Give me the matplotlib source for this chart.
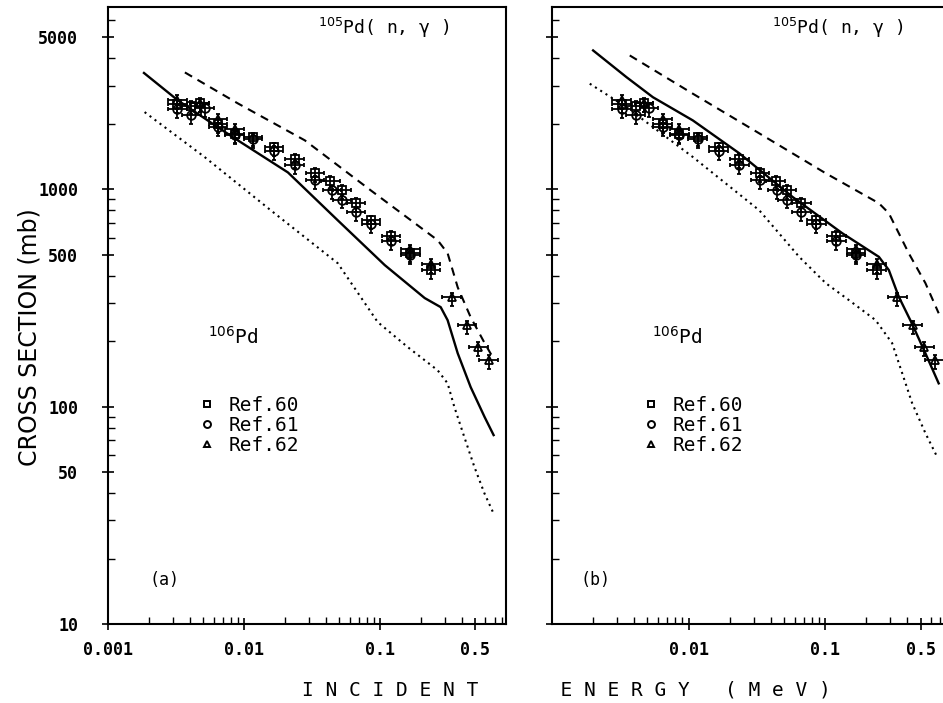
import numpy as np
import matplotlib.pyplot as plt
from matplotlib.lines import Line2D
from matplotlib.ticker import FixedLocator, FixedFormatter, NullFormatter

# measured points (energy in MeV, cross section in mb), shown in both panels
e60 = [0.00324, 0.0041, 0.00472, 0.00645, 0.00855, 0.01165, 0.01663, 0.0236,
       0.0334, 0.0434, 0.0526, 0.067, 0.0863, 0.121, 0.168, 0.238]
s60 = [2460, 2430, 2485, 2000, 1800, 1734, 1560, 1384,
       1188, 1092, 997, 865, 720, 610, 510, 425]

e61 = [0.00324, 0.0041, 0.00514, 0.00645, 0.00855, 0.01165, 0.01663, 0.0236,
       0.0334, 0.0445, 0.0526, 0.067, 0.0863, 0.121, 0.168]
s61 = [2350, 2190, 2356, 1930, 1770, 1700, 1500, 1290,
       1100, 990, 897, 787, 690, 580, 500]

e62 = [0.00324, 0.00472, 0.00645, 0.00855, 0.168, 0.238, 0.338, 0.438, 0.532, 0.633]
s62 = [2580, 2500, 2113, 1900, 530, 455, 318, 237, 188, 164]

# calculations, panel (a)
ea_solid = [0.00184, 0.00327, 0.00645, 0.00903, 0.0211, 0.0491, 0.1089, 0.2143,
            0.281, 0.316, 0.375, 0.467, 0.592, 0.689]
sa_solid = [3430, 2566, 1928, 1680, 1196, 720, 448, 316, 287, 250, 176, 123, 89.5, 74]
ea_dash = [0.00368, 0.00903, 0.0281, 0.0859, 0.267, 0.316, 0.375, 0.467, 0.592, 0.678]
sa_dash = [3450, 2485, 1680, 989, 583, 508, 354, 258, 196, 169]
ea_dot = [0.00186, 0.00514, 0.0158, 0.0491, 0.0966, 0.1606, 0.267, 0.316, 0.354,
          0.419, 0.497, 0.589, 0.697]
sa_dot = [2266, 1408, 800, 457, 245, 188, 147, 128, 99.8, 72.6, 52.9, 40, 31.7]

# calculations, panel (b)
eb_solid = [0.0020, 0.00351, 0.00548, 0.01075, 0.02355, 0.0577, 0.1336, 0.2477,
            0.293, 0.3467, 0.4315, 0.543, 0.679]
sb_solid = [4355, 3282, 2654, 2075, 1464, 923, 628, 489, 425, 320, 242, 176, 128]
eb_dash = [0.00371, 0.01075, 0.0330, 0.1011, 0.2477, 0.293, 0.410, 0.543, 0.679]
sb_dash = [4130, 2754, 1808, 1185, 863, 776, 508, 370, 269]
eb_dot = [0.00189, 0.00351, 0.01075, 0.0330, 0.0646, 0.1011, 0.1496, 0.2344,
          0.3097, 0.3664, 0.4335, 0.543, 0.661]
sb_dot = [3062, 2387, 1408, 800, 489, 370, 309, 250, 196, 143, 104, 75.5, 58.8]

xmaj_a = [0.001, 0.01, 0.1, 0.5]
xmaj_b = [0.01, 0.1, 0.5]
xlab_a = ['0.001', '0.01', '0.1', '0.5']
xlab_b = ['0.01', '0.1', '0.5']
ymaj = [10, 50, 100, 500, 1000, 5000]
ylab = ['10', '50', '100', '500', '1000', '5000']

MONO = 'DejaVu Sans Mono'

fig = plt.figure(figsize=(9.43, 7.03), dpi=100)
W, H = 943, 703
axa = fig.add_axes([108 / W, 1 - 624 / H, 398 / W, 617 / H])
axb = fig.add_axes([552 / W, 1 - 624 / H, 400 / W, 617 / H])


def draw_points(ax):
    f = 1.17
    for e, s, m in [(e60, s60, 's'), (e61, s61, 'o'), (e62, s62, '^')]:
        e = np.array(e)
        s = np.array(s, dtype=float)
        ax.errorbar(e, s, xerr=[e - e / f, e * f - e], yerr=[s * 0.09, s * 0.05],
                    fmt=m, ms=6.2, mfc='none', mec='k', mew=1.3, ecolor='k',
                    elinewidth=1.3, capsize=1.5, capthick=1.0, zorder=3)


def setup(ax, xmaj, xlab, show_y):
    ax.set_xscale('log')
    ax.set_yscale('log')
    ax.set_xlim(0.001, 0.85)
    ax.set_ylim(10, 6900)
    xmin = [m * 10.0 ** k for k in (-3, -2, -1) for m in range(2, 10)
            if m * 10.0 ** k < 0.85 and not any(abs(m * 10.0 ** k - t) < 1e-9 for t in xmaj)]
    ymin = [m * 10.0 ** k for k in (1, 2, 3) for m in range(2, 10)
            if m * 10.0 ** k < 6900 and m != 5]
    ax.xaxis.set_major_locator(FixedLocator(xmaj))
    ax.xaxis.set_major_formatter(FixedFormatter(xlab))
    ax.xaxis.set_minor_locator(FixedLocator(xmin))
    ax.xaxis.set_minor_formatter(NullFormatter())
    ax.yaxis.set_major_locator(FixedLocator(ymaj))
    ax.yaxis.set_minor_locator(FixedLocator(ymin))
    ax.yaxis.set_minor_formatter(NullFormatter())
    if show_y:
        ax.yaxis.set_major_formatter(FixedFormatter(ylab))
    else:
        ax.yaxis.set_major_formatter(NullFormatter())
    ax.tick_params(which='major', direction='inout', length=9, width=1.2,
                   top=False, right=False)
    ax.tick_params(which='minor', direction='in', length=5, width=1.0,
                   top=False, right=False)
    ax.tick_params(axis='y', which='major', pad=17)
    ax.tick_params(axis='x', which='major', pad=8)
    for lbl in ax.get_xticklabels() + ax.get_yticklabels():
        lbl.set_fontfamily(MONO)
        lbl.set_fontweight('bold')
        lbl.set_fontsize(12)
    for sp in ax.spines.values():
        sp.set_linewidth(1.5)


for ax, es, ss, ed, sd, et, st in [
        (axa, ea_solid, sa_solid, ea_dash, sa_dash, ea_dot, sa_dot),
        (axb, eb_solid, sb_solid, eb_dash, sb_dash, eb_dot, sb_dot)]:
    ax.plot(es, ss, color='k', lw=1.7)
    ax.plot(ed, sd, color='k', lw=1.5, dashes=(4, 3))
    ax.plot(et, st, color='k', lw=1.5, linestyle=(0, (1, 2)))
    draw_points(ax)

setup(axa, xmaj_a, xlab_a, True)
setup(axb, xmaj_b, xlab_b, False)

for ax, xt, tag, xtag in [(axa, 0.528, '(a)', 0.105), (axb, 0.55, '(b)', 0.07)]:
    ax.text(xt, 0.966, r'$^{105}$Pd( n, γ )', transform=ax.transAxes,
            fontsize=13, family=MONO, va='center', ha='left')
    ax.text(0.25, 0.465, r'$^{106}$Pd', transform=ax.transAxes,
            fontsize=14, family=MONO, va='center', ha='left')
    ax.text(xtag, 0.071, tag, transform=ax.transAxes,
            fontsize=12, family=MONO, va='center', ha='left')
    handles = [Line2D([], [], ls='none', marker='s', ms=5, mfc='none', mec='k', mew=1.4),
               Line2D([], [], ls='none', marker='o', ms=5, mfc='none', mec='k', mew=1.4),
               Line2D([], [], ls='none', marker='^', ms=5, mfc='none', mec='k', mew=1.4)]
    ax.legend(handles, ['Ref.60', 'Ref.61', 'Ref.62'], loc='upper left',
              bbox_to_anchor=(0.2, 0.385), frameon=False, handlelength=1.0,
              handletextpad=0.6, labelspacing=0.05, borderpad=0,
              prop={'family': MONO, 'size': 14})

fig.text(30 / W, 1 - 337 / H, 'CROSS SECTION (mb)', rotation=90,
         ha='center', va='center', fontsize=17, family='DejaVu Sans')
fig.text(566 / W, 1 - 690 / H,
         'I N C I D E N T       E N E R G Y   ( M e V )',
         ha='center', va='center', fontsize=14, family=MONO)

fig.savefig('out.png', dpi=100)
